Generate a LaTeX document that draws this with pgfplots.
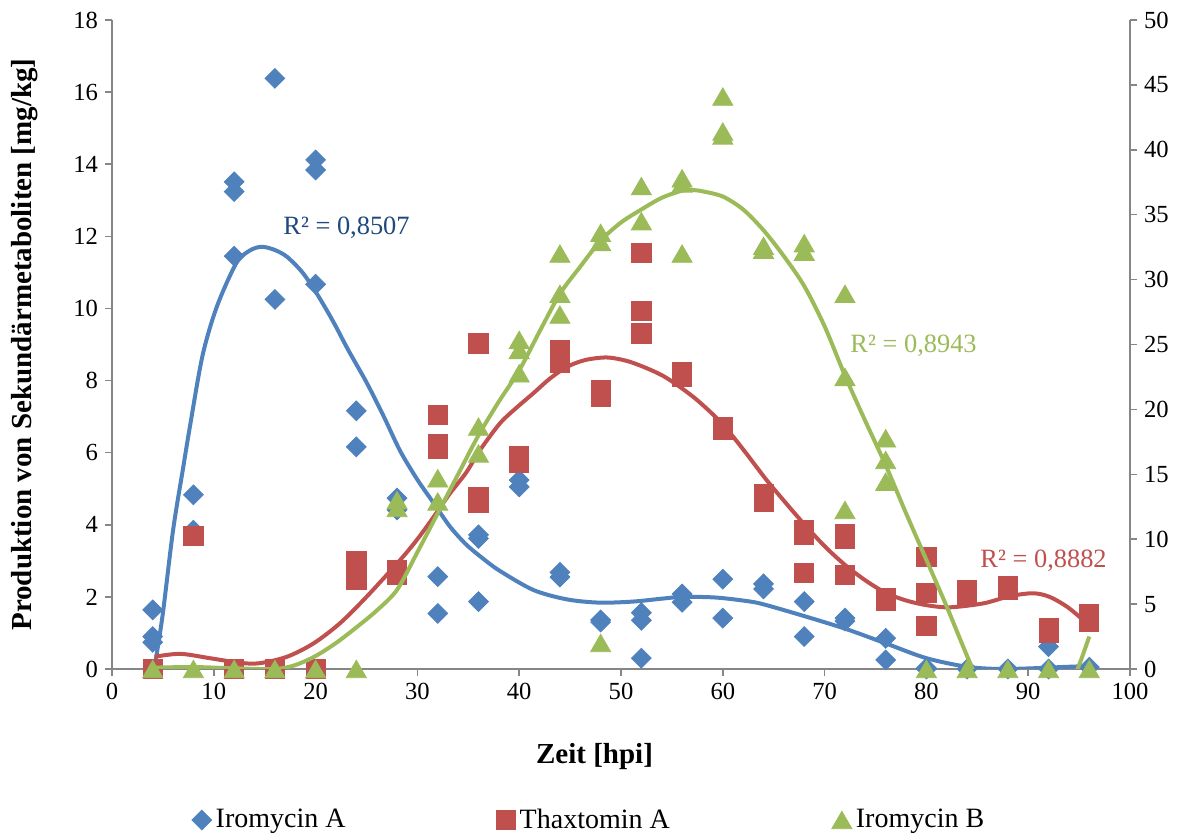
\documentclass[border=0pt]{standalone}
\usepackage{fontspec}
\setmainfont{Liberation Serif}
\usepackage{pgfplots}
\pgfplotsset{compat=1.18}
\definecolor{blueS}{RGB}{79,129,189}
\definecolor{redS}{RGB}{192,80,77}
\definecolor{greenS}{RGB}{155,187,89}
\definecolor{axgray}{RGB}{134,134,134}
\definecolor{blueT}{RGB}{31,73,125}
\pgfplotsset{
  common/.style={
    width=509pt, height=324.5pt, scale only axis,
    xmin=0, xmax=100,
    axis line style={draw=axgray, line width=0.75pt},
    tick style={draw=axgray, line width=0.75pt},
    tick align=outside, major tick length=3.5pt,
    /pgf/number format/assume math mode=true,
    ticklabel style={font=\fontsize{12.3}{14}\selectfont, text=black},
  },
  bluemark/.style={only marks, color=blueS, mark=square*, mark size=3.5pt, mark options={rotate=45}},
  redmark/.style={only marks, color=redS, mark=square*, mark size=4.8pt},
  greenmark/.style={only marks, color=greenS, mark=triangle*, mark size=5.8pt, mark options={yshift=-1.45pt}},
}
\begin{document}
\begin{tikzpicture}
\begin{axis}[common,
  axis x line*=bottom, axis y line*=left,
  ymin=0, ymax=18, ytick={0,2,...,18}, xtick={0,10,...,100},
  xlabel={Zeit [hpi]},
  ylabel={Produktion von Sekundärmetaboliten [mg/kg]},
  xlabel style={at={(axis description cs:0.474,-0.135)}, anchor=center, font=\fontsize{14.5}{16}\selectfont\bfseries},
  ylabel style={at={(axis description cs:-0.0855,0.5)}, anchor=center, rotate=0, font=\fontsize{14.5}{16}\selectfont\bfseries},
  legend style={at={(axis description cs:0.4696,-0.2327)}, anchor=center, draw=none, fill=none,
    font=\fontsize{14}{16}\selectfont, legend columns=3,
    /tikz/column 2/.style={column sep=73.5pt},
    /tikz/column 4/.style={column sep=79pt}},
  legend image code/.code={\draw[mark repeat=2,mark phase=2,#1] plot coordinates {(0cm,0cm)(0.12cm,0cm)(0.24cm,0cm)};},
]
% Iromycin A
\addplot[bluemark] coordinates {
(4,1.64)(4,0.9)(4,0.74)
(8,4.83)(8,3.85)
(12,13.51)(12,13.24)(12,11.45)
(16,16.38)(16,10.25)
(20,14.12)(20,13.84)(20,10.67)
(24,7.16)(24,6.16)
(28,4.74)(28,4.41)
(32,2.56)(32,1.54)
(36,3.72)(36,3.62)(36,1.87)
(40,5.24)(40,5.05)
(44,2.68)(44,2.55)
(48,1.36)(48,1.3)
(52,1.56)(52,1.35)(52,0.3)
(56,2.08)(56,1.85)
(60,2.49)(60,1.41)
(64,2.36)(64,2.22)
(68,1.87)(68,0.9)
(72,1.41)(72,1.33)
(76,0.85)(76,0.25)
(80,0.03)(80,0)
(84,0)(88,0)
(92,0.62)(92,0)
(96,0.05)
};
\addlegendentry{Iromycin A}
% Thaxtomin A
\addplot[redmark] coordinates {
(4,0)(8,3.69)(12,0)(16,0)(20,0)
(24,3.0)(24,2.47)
(28,2.75)(28,2.6)
(32,7.05)(32,6.25)(32,6.1)
(36,9.03)(36,4.78)(36,4.62)
(40,5.9)(40,5.72)
(44,8.85)(44,8.48)
(48,7.74)(48,7.55)
(52,11.53)(52,9.93)(52,9.31)
(56,8.25)(56,8.1)
(60,6.72)(60,6.62)
(64,4.85)(64,4.65)
(68,3.85)(68,3.72)(68,2.67)
(72,3.75)(72,3.6)(72,2.61)
(76,1.97)(76,1.9)
(80,3.11)(80,2.1)(80,1.2)
(84,2.2)(84,2.05)
(88,2.3)(88,2.2)
(92,1.15)(92,1.0)
(96,1.52)(96,1.3)
};
\addlegendentry{Thaxtomin A}
\addlegendimage{greenmark}
\addlegendentry{Iromycin B}
% trend Iromycin A
\addplot[blueS, line width=2pt, smooth, forget plot] coordinates {
(4,-0.3)(4.3,0.25)(5,1.55)(6,3.85)(7,5.6)(7.7,6.8)(8.9,8.7)(10.3,10.05)(12.2,11.25)(13.5,11.6)(14.7,11.71)(16,11.62)(17.2,11.43)(18.7,11.0)(20.1,10.42)(21.7,9.65)(23.2,8.85)(25,7.95)(26.7,7.0)(28.3,6.05)(30,5.25)(31.6,4.6)(33.2,3.95)(34.8,3.45)(36.5,3.05)(38.1,2.72)(41.4,2.19)(44.7,1.93)(47.9,1.84)(51.2,1.87)(54,1.95)(56.1,2.0)(59.4,1.98)(62.7,1.87)(64.3,1.77)(68.2,1.45)(72.2,1.1)(76.1,0.7)(80,0.3)(84,0.06)(87.2,0.0)(90.5,0.02)(93.8,0.06)(96,0.08)
};
% trend Thaxtomin A
\addplot[redS, line width=2pt, smooth, forget plot] coordinates {
(4.2,0.34)(6.7,0.42)(9.6,0.3)(12.6,0.17)(14.5,0.16)(17.2,0.34)(19.8,0.71)(22.4,1.27)(25,2.0)(28.3,3.02)(30,3.6)(31.6,4.22)(33.2,4.87)(34.8,5.45)(36.1,6.05)(38.1,6.81)(39.75,7.25)(41.4,7.65)(43,8.05)(44.7,8.38)(46.5,8.57)(48.6,8.64)(50.5,8.55)(52.2,8.38)(54,8.15)(55.5,7.88)(57.3,7.5)(59.1,7.04)(60.7,6.55)(62.3,5.98)(64.3,5.24)(66.2,4.6)(68.2,3.95)(70.2,3.35)(72.2,2.84)(74.2,2.42)(76.1,2.1)(78,1.9)(80,1.77)(82.3,1.71)(85.6,1.82)(88.2,2.02)(90.5,2.1)(92.1,2.0)(93.8,1.73)(95.4,1.36)(96,1.22)
};
\node[anchor=west, text=blueT, font=\fontsize{13.2}{15}\selectfont, inner sep=0pt] at (axis cs:16.8,12.23) {R² = 0,8507};
\node[anchor=west, text=redS, font=\fontsize{13.2}{15}\selectfont, inner sep=0pt] at (axis cs:85.27,3.0) {R² = 0,8882};
\node[anchor=west, text=greenS, font=\fontsize{13.2}{15}\selectfont, inner sep=0pt] at (axis cs:72.5,8.96) {R² = 0,8943};
\end{axis}
\begin{axis}[common,
  axis x line=none, axis y line*=right,
  ymin=0, ymax=50, ytick={0,5,...,50},
]
% Iromycin B
\addplot[greenmark] coordinates {
(4,0)(8,0)(12,0)(16,0)(20,0)(24,0)
(28,13.0)(28,12.4)
(32,14.69)(32,12.9)
(36,18.67)(36,16.6)
(40,25.35)(40,24.58)(40,22.78)
(44,32.0)(44,28.9)(44,27.3)
(48,33.6)(48,32.9)(48,2.0)
(52,37.2)(52,34.5)
(56,37.8)(56,37.4)(56,32.0)
(60,44.1)(60,41.4)(60,41.1)
(64,32.6)(64,32.3)
(68,32.8)(68,32.15)
(72,28.9)(72,22.5)(72,12.25)
(76,17.77)(76,16.1)(76,14.43)
(80,0)(84,0)(88,0)(92,0)(96,0)
};
\addplot[greenS, line width=2pt, smooth] coordinates {
(4,0.1)(8,0.15)(12,0.05)(16,0.0)(18,0.3)(20,1.0)(22,2.0)(24,3.2)(26,4.5)(28,6.1)(30,9.0)(32,12.0)(34,15.0)(36,18.0)(38,20.6)(40,23.0)(42,26.0)(44,28.9)(46,31.0)(48,33.0)(50,34.4)(52,35.4)(54,36.3)(56,36.85)(57,36.9)(58,36.8)(60,36.4)(62,35.4)(64,33.8)(66,31.8)(68,29.5)(70,26.4)(72,22.6)(74,19.1)(76,15.7)(78,12.0)(80,8.4)(82,4.8)(84,1.0)(86,-2.5)(88,-4.5)(90,-5.5)(92,-4.5)(94,-1.5)(95,0.3)(96,2.5)
};
\end{axis}
\path ([shift={(-56pt,-83.5pt)}]current axis.south west) rectangle ([shift={(31.5pt,10pt)}]current axis.north east);
\end{tikzpicture}
\end{document}
